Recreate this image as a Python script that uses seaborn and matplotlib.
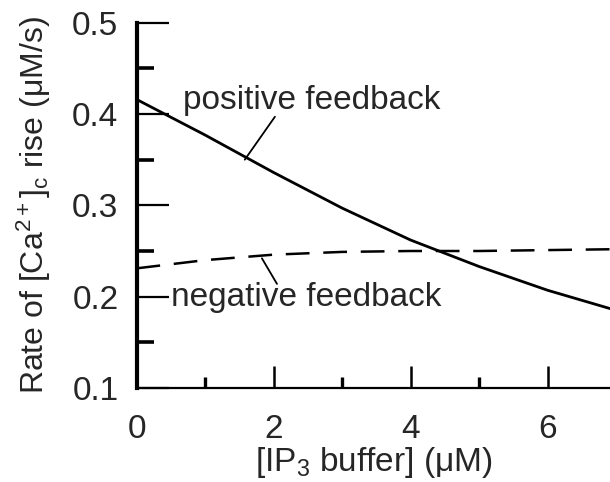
import numpy as np
import pandas as pd
import matplotlib
matplotlib.use("Agg")
import matplotlib.pyplot as plt
import seaborn as sns
from matplotlib.ticker import MultipleLocator

# IP3 buffer concentration (uM) and rate of cytosolic Ca2+ rise (uM/s)
buffer_uM = [0, 1, 2, 3, 4, 5, 6, 7]
positive_feedback = [0.416, 0.377, 0.336, 0.297, 0.262, 0.233, 0.207, 0.185]
negative_feedback = [0.231, 0.240, 0.246, 0.249, 0.250, 0.250, 0.251, 0.252]

x_ticks = [0, 2, 4, 6]
y_ticks = [0.1, 0.2, 0.3, 0.4, 0.5]

sns.set_theme(style="ticks")
plt.rcParams["font.family"] = ["Liberation Sans", "DejaVu Sans"]
plt.rcParams["mathtext.fontset"] = "custom"
plt.rcParams["mathtext.rm"] = "Liberation Sans"
plt.rcParams["mathtext.it"] = "Liberation Sans:italic"

df = pd.DataFrame({
    "buffer": buffer_uM * 2,
    "rate": positive_feedback + negative_feedback,
    "mode": ["positive"] * len(buffer_uM) + ["negative"] * len(buffer_uM),
})

fig = plt.figure(figsize=(6.1, 4.82), dpi=100)
ax = fig.add_axes([0.2238, 0.195, 1.0 - 0.2238, 0.953 - 0.195])

sns.lineplot(data=df[df["mode"] == "positive"], x="buffer", y="rate",
             color="black", lw=2.0, ax=ax)
sns.lineplot(data=df[df["mode"] == "negative"], x="buffer", y="rate",
             color="black", lw=1.8, ax=ax)
ax.lines[1].set_dashes((9.5, 5.5))

ax.set_xlim(0, 6.91)
ax.set_ylim(0.1, 0.5)

for side in ("top", "right"):
    ax.spines[side].set_visible(False)
ax.spines["left"].set_linewidth(3.0)
ax.spines["bottom"].set_linewidth(1.6)
ax.spines["left"].set_color("black")
ax.spines["bottom"].set_color("black")

ax.set_xticks(x_ticks)
ax.set_yticks(y_ticks)
ax.xaxis.set_minor_locator(MultipleLocator(1))
ax.yaxis.set_minor_locator(MultipleLocator(0.05))
ax.set_yticklabels([f"{v:.1f}" for v in y_ticks])

ax.tick_params(axis="y", which="major", direction="in", length=23, width=1.6,
               labelsize=24, pad=13, color="black")
ax.tick_params(axis="y", which="minor", direction="in", length=12, width=2.6,
               color="black")
ax.tick_params(axis="x", which="major", direction="in", length=16, width=1.8,
               labelsize=24, pad=19, color="black")
ax.tick_params(axis="x", which="minor", direction="in", length=8, width=2.4,
               color="black")

ax.set_xlabel("[IP$_{3}$ buffer] (μM)", fontsize=24, labelpad=0)
ax.set_ylabel("Rate of [Ca$^{2+}$]$_{\\mathrm{c}}$ rise (μM/s)", fontsize=23,
              labelpad=14)

# curve labels with leader lines
ax.text(0.68, 0.406, "positive feedback", fontsize=24, ha="left", va="baseline")
ax.plot([1.58, 2.02], [0.350, 0.397], color="black", lw=1.3)
ax.text(0.51, 0.190, "negative feedback", fontsize=24, ha="left", va="baseline")
ax.plot([1.83, 2.05], [0.242, 0.214], color="black", lw=1.3)

fig.savefig("out.png", dpi=100)
